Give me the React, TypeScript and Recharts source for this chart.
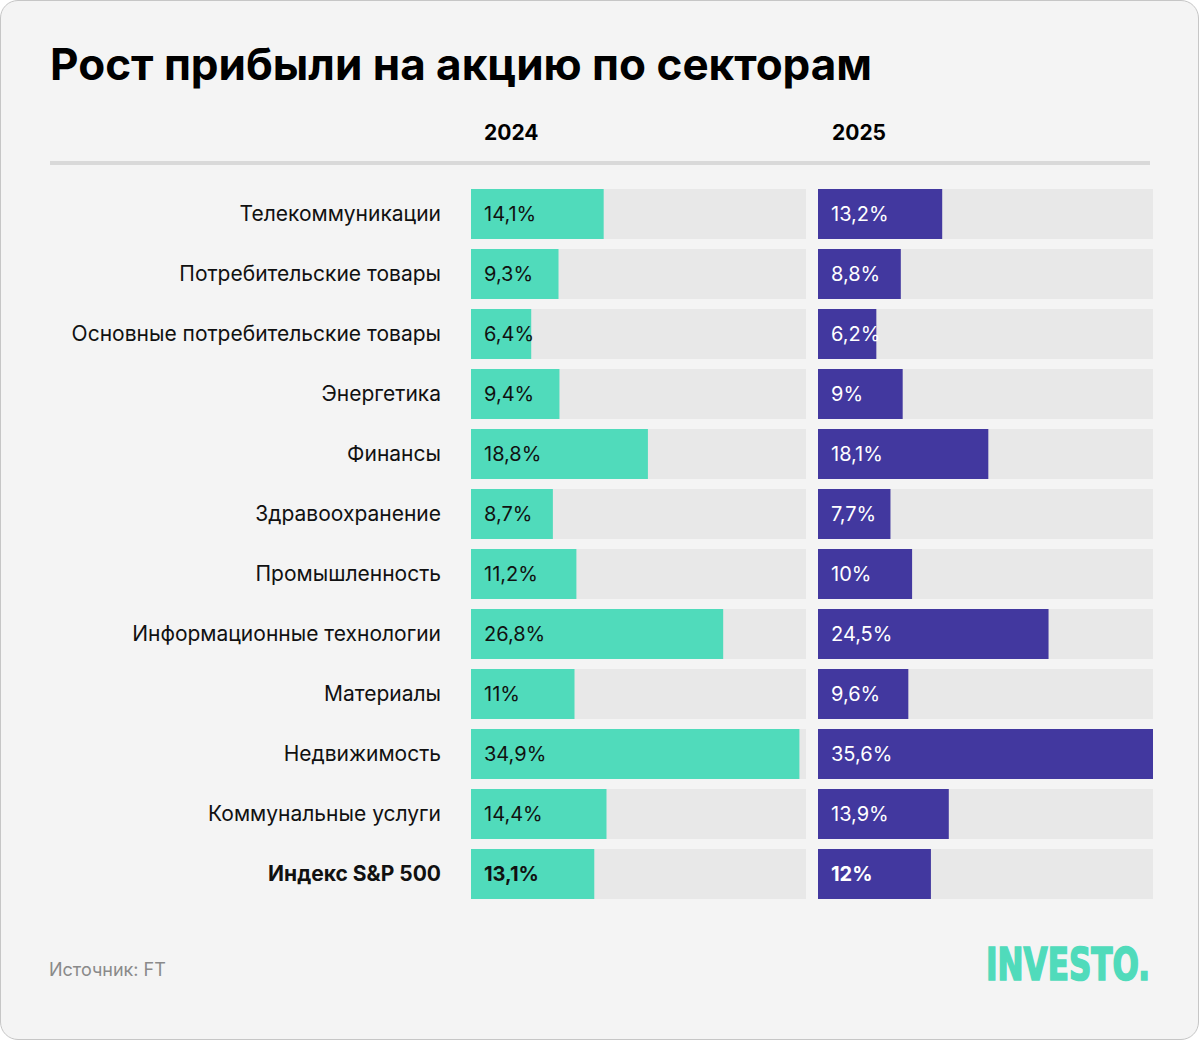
import React from 'react';
import { BarChart, Bar, XAxis, YAxis } from 'recharts';

const categories = [
  'Телекоммуникации',
  'Потребительские товары',
  'Основные потребительские товары',
  'Энергетика',
  'Финансы',
  'Здравоохранение',
  'Промышленность',
  'Информационные технологии',
  'Материалы',
  'Недвижимость',
  'Коммунальные услуги',
  'Индекс S&P 500',
];
const values2024 = [14.1, 9.3, 6.4, 9.4, 18.8, 8.7, 11.2, 26.8, 11, 34.9, 14.4, 13.1];
const values2025 = [13.2, 8.8, 6.2, 9, 18.1, 7.7, 10, 24.5, 9.6, 35.6, 13.9, 12];
const yearLabels = ['2024', '2025'];
const title = 'Рост прибыли на акцию по секторам';
const source = 'Источник: FT';
const logo = 'INVESTO.';
const domainMax = 35.6;

const data = categories.map((name, i) => ({ name, y2024: values2024[i], y2025: values2025[i] }));

const FONT = 'Inter, "Noto Sans", sans-serif';
const GREEN = '#50dbbb';
const PURPLE = '#42389f';
const TRACK = '#e8e8e8';
const lastIdx = categories.length - 1;

const fmt = (v: number) => String(v).replace('.', ',') + '%';

const makeLabel = (color: string) => (props: any) => {
  const { x, y, height, value, index } = props;
  const bold = index === lastIdx;
  return (
    <text
      x={Number(x) + 13}
      y={Number(y) + Number(height) / 2}
      dy="0.33em"
      fill={color}
      fontSize={20}
      fontWeight={bold ? 700 : 400}
      fontFamily={FONT}
      textAnchor="start"
    >
      {fmt(Number(value))}
    </text>
  );
};

const CategoryTick = (props: any) => {
  const { x, y, payload } = props;
  const bold = payload.value === categories[lastIdx];
  return (
    <text
      x={x}
      y={y}
      dy="0.32em"
      textAnchor="end"
      fill="#111"
      fontSize={21}
      fontWeight={bold ? 700 : 400}
      fontFamily={FONT}
    >
      {payload.value}
    </text>
  );
};

export default function App() {
  return (
    <div style={{ position: 'absolute', left: 0, top: 0, width: 1200, height: 1041, fontFamily: FONT }}>
      <div
        style={{
          position: 'absolute',
          left: 0,
          top: 0,
          width: 1199,
          height: 1040,
          boxSizing: 'border-box',
          border: '1px solid #c6c6c6',
          borderRadius: 18,
          background: '#f4f4f4',
        }}
      />
      <svg width={1200} height={1041} style={{ position: 'absolute', left: 0, top: 0 }}>
        <text x={50} y={80} fontSize={44} fontWeight={700} fill="#000" fontFamily={FONT}>
          {title}
        </text>
        <text x={484} y={140} fontSize={21} fontWeight={700} fill="#000" fontFamily={FONT}>
          {yearLabels[0]}
        </text>
        <text x={832} y={140} fontSize={21} fontWeight={700} fill="#000" fontFamily={FONT}>
          {yearLabels[1]}
        </text>
        <rect x={50} y={161} width={1100} height={4} fill="#d9d9d9" />
        <text x={49} y={976} fontSize={18} fill="#8a8a8a" fontFamily={FONT}>
          {source}
        </text>
        <text
          x={986}
          y={980}
          fontSize={44}
          fontWeight={700}
          fill={GREEN}
          stroke={GREEN}
          strokeWidth={1.6}
          fontFamily='"DejaVu Sans Condensed", "Liberation Sans Narrow", sans-serif'
          textLength={164}
          lengthAdjust="spacingAndGlyphs"
        >
          {logo}
        </text>
      </svg>
      <div style={{ position: 'absolute', left: 50, top: 184 }}>
        <BarChart
          width={756}
          height={720}
          data={data}
          layout="vertical"
          margin={{ top: 0, right: 0, bottom: 0, left: 0 }}
          barSize={50}
        >
          <XAxis type="number" domain={[0, domainMax]} hide />
          <YAxis
            type="category"
            dataKey="name"
            width={421}
            tickLine={false}
            axisLine={false}
            tickSize={0}
            tickMargin={30}
            interval={0}
            tick={CategoryTick}
          />
          <Bar
            dataKey="y2024"
            fill={GREEN}
            background={{ fill: TRACK }}
            isAnimationActive={false}
            label={makeLabel('#111')}
          />
        </BarChart>
      </div>
      <div style={{ position: 'absolute', left: 818, top: 184 }}>
        <BarChart
          width={335}
          height={720}
          data={data}
          layout="vertical"
          margin={{ top: 0, right: 0, bottom: 0, left: 0 }}
          barSize={50}
        >
          <XAxis type="number" domain={[0, domainMax]} hide />
          <YAxis type="category" dataKey="name" hide />
          <Bar
            dataKey="y2025"
            fill={PURPLE}
            background={{ fill: TRACK }}
            isAnimationActive={false}
            label={makeLabel('#ffffff')}
          />
        </BarChart>
      </div>
    </div>
  );
}
